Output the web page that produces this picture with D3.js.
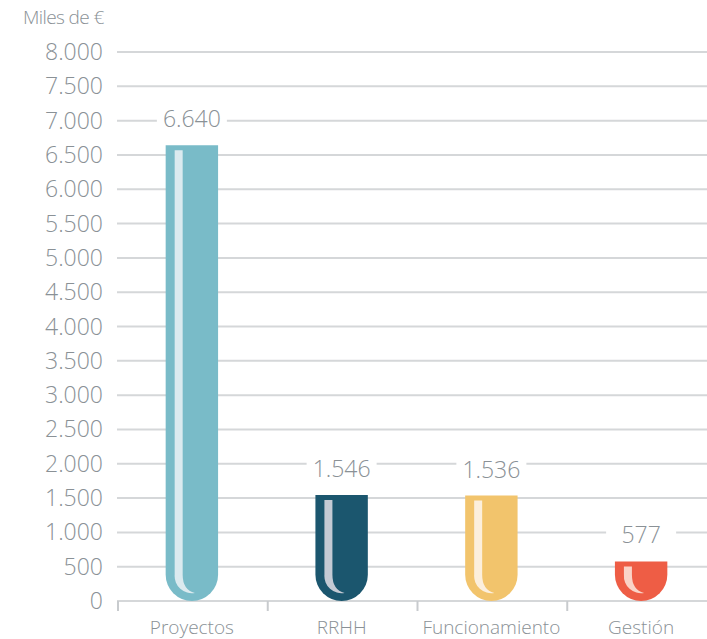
<!DOCTYPE html>
<html>
<head>
<meta charset="utf-8">
<script src="https://cdn.jsdelivr.net/npm/d3@7"></script>
<style>
  body { margin: 0; background: #fff; }
  text { font-family: "Open Sans", sans-serif; font-weight: 300; fill: #8a9196; }
</style>
</head>
<body>
<div id="chart"></div>
<script>
// Data
const categories = ["Proyectos", "RRHH", "Funcionamiento", "Gestión"];
const values = [6640, 1546, 1536, 577];
const valueLabels = ["6.640", "1.546", "1.536", "577"];
const barColors = ["#79bbc8", "#1b566e", "#f2c46c", "#ee5d45"];
const shineColors = ["#dbeaef", "#c4cad4", "#fcefdc", "#fad3c7"];
const yTicks = [0, 500, 1000, 1500, 2000, 2500, 3000, 3500, 4000, 4500, 5000, 5500, 6000, 6500, 7000, 7500, 8000];
const yTickLabels = ["0", "500", "1.000", "1.500", "2.000", "2.500", "3.000", "3.500", "4.000", "4.500", "5.000", "5.500", "6.000", "6.500", "7.000", "7.500", "8.000"];

const w = 707;
const h = 639;

const svg = d3.select("#chart")
  .append("svg")
  .attr("width", w)
  .attr("height", h);

const yScale = d3.scaleLinear()
  .domain([0, 8000])
  .range([601, 52]);

const xScale = d3.scaleBand()
  .domain(categories)
  .range([117, 716])
  .paddingInner(0.65)
  .paddingOuter(0.325);

const step = xScale.step();

// gridlines
svg.selectAll(".grid")
  .data(yTicks)
  .enter()
  .append("line")
  .attr("x1", 117)
  .attr("x2", w)
  .attr("y1", (d) => yScale(d))
  .attr("y2", (d) => yScale(d))
  .attr("stroke", "#d5d7d9")
  .attr("stroke-width", 2);

// y tick labels
svg.selectAll(".yLabel")
  .data(yTicks)
  .enter()
  .append("text")
  .attr("x", 103)
  .attr("y", (d) => yScale(d) + 8)
  .attr("text-anchor", "end")
  .attr("font-size", "23px")
  .text((d, i) => yTickLabels[i]);

// unit label
svg.append("text")
  .attr("x", 23)
  .attr("y", 24)
  .attr("font-size", "19px")
  .attr("letter-spacing", "-0.6")
  .text("Miles de €");

// category boundary ticks
svg.selectAll(".xTick")
  .data(categories)
  .enter()
  .append("line")
  .attr("x1", (d) => xScale(d) - step * 0.325 + 1)
  .attr("x2", (d) => xScale(d) - step * 0.325 + 1)
  .attr("y1", 601)
  .attr("y2", 611)
  .attr("stroke", "#c8cbce")
  .attr("stroke-width", 2);

// category labels
svg.selectAll(".xLabel")
  .data(categories)
  .enter()
  .append("text")
  .attr("x", (d) => xScale(d) + xScale.bandwidth() / 2)
  .attr("y", 634)
  .attr("text-anchor", "middle")
  .attr("font-size", "19px")
  .text((d) => d);

// bars: flat top, round bottom
const bw = xScale.bandwidth();
const r = bw / 2;
const base = yScale(0);

function barPath(d, i) {
  const x = xScale(categories[i]);
  const top = yScale(d);
  const cy = base - r;
  return "M" + x + "," + top +
    " H" + (x + bw) +
    " V" + cy +
    " A" + r + "," + r + " 0 0 1 " + x + "," + cy +
    " Z";
}

svg.selectAll(".bar")
  .data(values)
  .enter()
  .append("path")
  .attr("d", barPath)
  .attr("fill", (d, i) => barColors[i]);

// shine stripe
function shinePath(d, i) {
  const cx = xScale(categories[i]) + r;
  const top = yScale(d) + 5;
  const cy = base - r;
  const ro = r - 9;
  const x0 = cx - ro;
  const x1 = x0 + 8;
  return "M" + x0 + "," + top +
    " H" + x1 +
    " V" + cy +
    " Q" + x1 + "," + (cy + ro - 2) + " " + (cx + 3) + "," + (cy + ro + 1) +
    " A" + ro + "," + ro + " 0 0 1 " + x0 + "," + cy +
    " Z";
}

svg.selectAll(".shine")
  .data(values)
  .enter()
  .append("path")
  .attr("d", shinePath)
  .attr("fill", (d, i) => shineColors[i]);

// value labels with white box over gridline
const labels = svg.selectAll(".valueLabel")
  .data(values)
  .enter()
  .append("g");

labels.append("rect")
  .attr("x", (d, i) => xScale(categories[i]) + r - 35)
  .attr("y", (d) => yScale(d) - 38)
  .attr("width", 70)
  .attr("height", 30)
  .attr("fill", "#fff");

labels.append("text")
  .attr("x", (d, i) => xScale(categories[i]) + r)
  .attr("y", (d) => yScale(d) - 18)
  .attr("text-anchor", "middle")
  .attr("font-size", "23px")
  .text((d, i) => valueLabels[i]);
</script>
</body>
</html>
